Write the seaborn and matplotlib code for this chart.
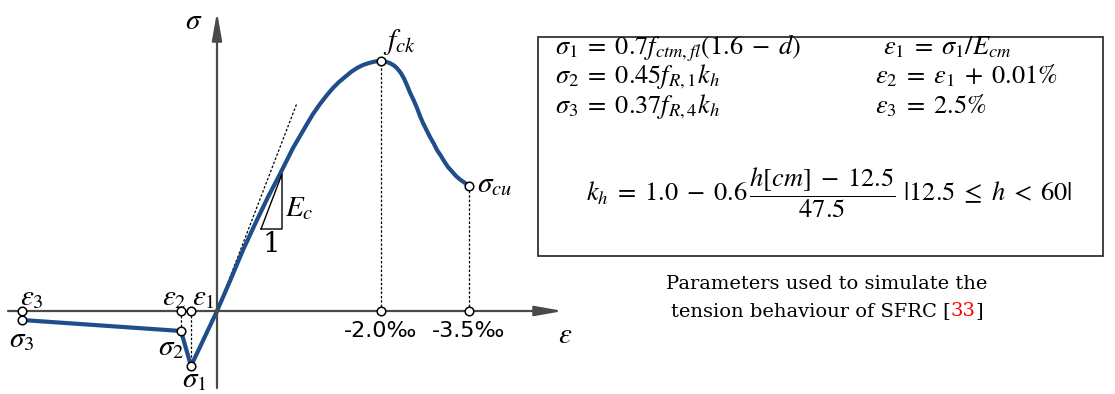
import matplotlib
matplotlib.use("Agg")
import matplotlib.pyplot as plt
import seaborn as sns
import pandas as pd

sns.set_theme(style="white")
plt.rcParams["font.family"] = ["DejaVu Serif", "DejaVu Sans"]
plt.rcParams["mathtext.fontset"] = "stix"
plt.rcParams["text.color"] = "black"

# ---- schematic data (diagram units: origin at axis crossing, compression positive) ----
comp_eps = [0, 13, 26, 39, 51, 63, 70, 76, 83, 90, 96, 103, 110, 116, 122, 128,
            134, 140, 146, 152, 158, 164, 169, 173, 177, 180, 184, 187, 190, 193,
            197, 200, 203, 206, 210, 213, 217, 220, 224, 227, 231, 235, 239, 243,
            248, 252]
comp_sig = [0, 30, 61, 89, 114, 137, 151, 163, 175, 187, 197, 207, 216, 223, 229, 234,
            239, 243, 246, 248, 249.5, 250, 249.3, 247.8, 245.5, 242.8, 237.8, 232.5, 225.8, 218.5,
            210, 203, 195, 188, 180, 174, 167, 161, 155, 150, 144, 139.5, 135, 131.5,
            128, 125]
tens_eps = [-195, -36, -26, 0]
tens_sig = [-9, -20, -55, 0]

point_eps = [-195, -195, -36, -26, -36, -26, 164, 164, 252, 252]
point_sig = [0, -9, 0, 0, -20, -55, 250, 0, 125, 0]

tangent_eps = [0, 80]
tangent_sig = [0, 208]
tri_eps = [44, 65, 65, 44]
tri_sig = [82, 82, 137, 82]

tick_labels = ["-2.0‰", "-3.5‰"]
tick_eps = [164, 252]

curve_color = "#1f4e8a"
axis_color = "#4a4a4a"

fig = plt.figure(figsize=(11.15, 3.94), dpi=100)
ax = fig.add_axes([0, 0, 1, 1])
ax.set_xlim(-217, 898)
ax.set_ylim(-83, 311)
ax.axis("off")

# axes arrows
arr = dict(arrowstyle="-|>,head_length=1.4,head_width=0.25", color=axis_color,
           lw=1.6, shrinkA=0, shrinkB=0)
ax.annotate("", xy=(346, 0), xytext=(-209, 0), arrowprops=arr)
ax.annotate("", xy=(0, 299), xytext=(0, -77), arrowprops=arr)

# dotted guide lines
dot = dict(color="black", lw=0.9, ls=(0, (2, 1.5)))
ax.plot([164, 164], [0, 250], **dot)
ax.plot([252, 252], [0, 125], **dot)
ax.plot([-36, -36], [0, -20], **dot)
ax.plot([-26, -26], [0, -55], **dot)
ax.plot(tangent_eps, tangent_sig, **dot)

# curves
df_c = pd.DataFrame({"eps": comp_eps, "sig": comp_sig})
df_t = pd.DataFrame({"eps": tens_eps, "sig": tens_sig})
sns.lineplot(data=df_c, x="eps", y="sig", sort=False, estimator=None, ax=ax,
             color=curve_color, lw=3)
sns.lineplot(data=df_t, x="eps", y="sig", sort=False, estimator=None, ax=ax,
             color=curve_color, lw=3)

# slope triangle
ax.plot(tri_eps, tri_sig, color="black", lw=1.0)

# markers
df_p = pd.DataFrame({"eps": point_eps, "sig": point_sig})
sns.scatterplot(data=df_p, x="eps", y="sig", ax=ax, s=38, color="white",
                edgecolor="black", linewidth=1.1, zorder=5)

ax.set_xlabel("")
ax.set_ylabel("")

# labels
lab = dict(fontsize=21, ha="center", va="center")
ax.text(-23, 290, r"$\sigma$", **lab)
ax.text(348, -24, r"$\varepsilon$", **lab)
ax.text(-185, 14, r"$\varepsilon_{3}$", **lab)
ax.text(-195, -28, r"$\sigma_{3}$", **lab)
ax.text(-43, 14, r"$\varepsilon_{2}$", **lab)
ax.text(-14, 14, r"$\varepsilon_{1}$", **lab)
ax.text(-46, -36, r"$\sigma_{2}$", **lab)
ax.text(-23, -68, r"$\sigma_{1}$", **lab)
ax.text(182, 269, r"$f_{ck}$", **lab)
ax.text(278, 127, r"$\sigma_{cu}$", **lab)
ax.text(82, 103, r"$E_c$", **lab)
ax.text(54, 67, "1", fontsize=20, ha="center", va="center")
for e, t in zip(tick_eps, tick_labels):
    ax.text(e, -20, t, fontsize=16, ha="center", va="center", family="DejaVu Sans")

# formula box
ax.add_patch(plt.Rectangle((321, 55), 565, 219, fill=False, ec="#333333", lw=1.3))
fs = 19
bl = dict(fontsize=fs, va="baseline")
ax.text(338, 257, r"$\sigma_1\;=\;0.7f_{ctm,fl}(1.6\;-\;d)$", **bl)
ax.text(666, 257, r"$\varepsilon_1\;=\;\sigma_1/E_{cm}$", **bl)
ax.text(338, 228, r"$\sigma_2\;=\;0.45f_{R,1}k_h$", **bl)
ax.text(658, 228, r"$\varepsilon_2\;=\;\varepsilon_1\;+\;0.01\%$", **bl)
ax.text(338, 198, r"$\sigma_3\;=\;0.37f_{R,4}k_h$", **bl)
ax.text(658, 198, r"$\varepsilon_3\;=\;2.5\%$", **bl)
ax.text(612, 118,
        r"$k_h\;=\;1.0\;-\;0.6\,\dfrac{h[cm]\;-\;12.5}{47.5}\ |12.5\;\leq\;h\;<\;60|$",
        fontsize=fs, ha="center", va="center")

# caption
cap_fs = 14
ax.text(610, 27, "Parameters used to simulate the", fontsize=cap_fs, ha="center", va="center")
fig.canvas.draw()
r = fig.canvas.get_renderer()
parts = [("tension behaviour of SFRC [", "black"), ("33", "red"), ("]", "black")]
widths = []
for s, c in parts:
    t = ax.text(0, 0, s, fontsize=cap_fs)
    widths.append(t.get_window_extent(r).width)
    t.remove()
total = sum(widths)
inv = ax.transData.inverted()
cx_disp = ax.transData.transform((610, 0))[0]
x_disp = cx_disp - total / 2
for (s, c), w in zip(parts, widths):
    xd = inv.transform((x_disp, 0))[0]
    ax.text(xd, 0, s, fontsize=cap_fs, color=c, ha="left", va="center")
    x_disp += w

fig.savefig("out.png", dpi=100)
